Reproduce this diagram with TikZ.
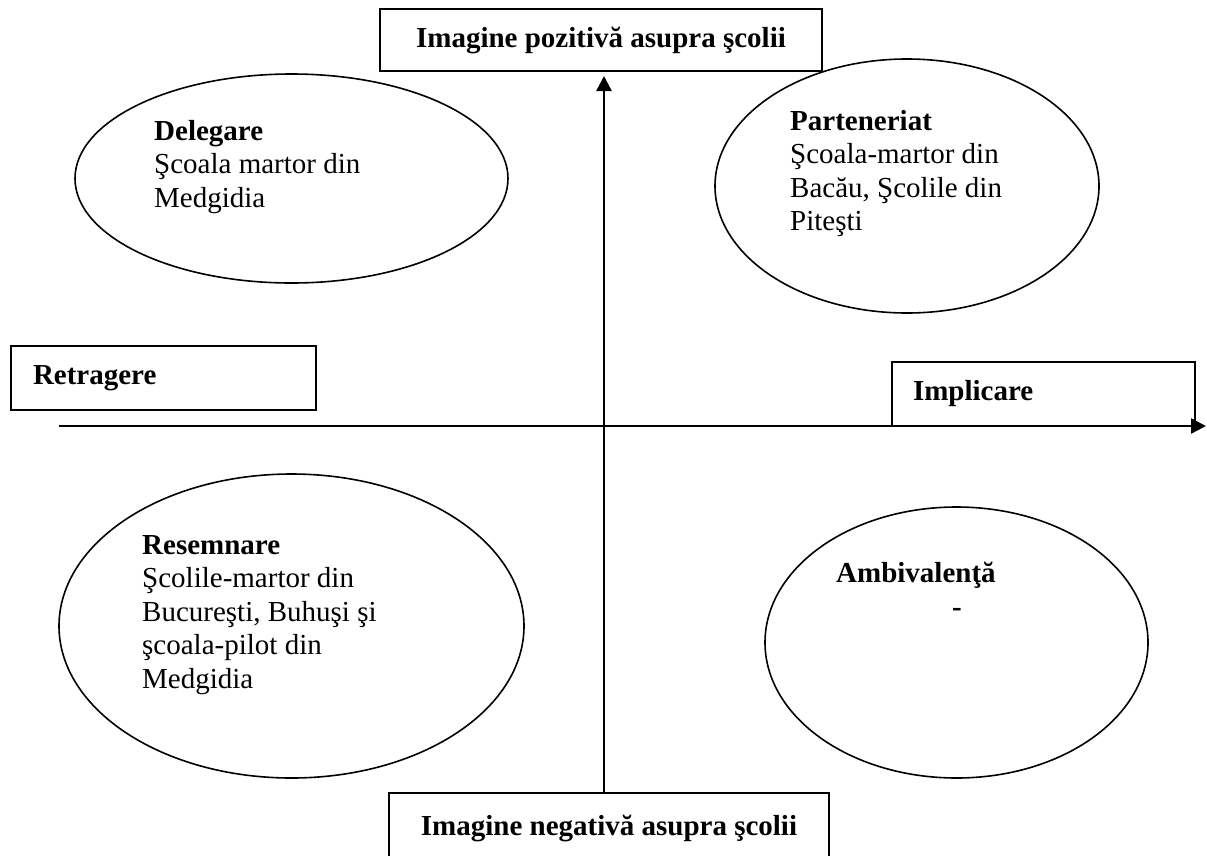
\documentclass[tikz,border=0pt]{standalone}
\usepackage{fontspec}
\setmainfont{Liberation Serif}
\usetikzlibrary{arrows.meta}

\begin{document}
\begin{tikzpicture}[x=1pt,y=-1pt,font=\fontsize{29}{33.5}\selectfont]
\tikzset{box it/.style={draw, line width=2pt, inner sep=0pt}}
\tikzset{oval it/.style={line width=1.6pt}}
\tikzset{text it/.style={anchor=north west, inner sep=0pt, align=left}}

\useasboundingbox (0,0) rectangle (1207,855);

\node [box it, minimum width=442pt, minimum height=62pt] (v1) at (601,40) {\textbf{Imagine pozitivă asupra şcolii}};
\node [box it, minimum width=440pt, minimum height=70pt] (v2) at (609,828) {\textbf{Imagine negativă asupra şcolii}};
\node [box it, text width=261pt, inner xsep=22pt, minimum height=64pt, align=left] (v3) at (163.5,378) {\textbf{Retragere}};
\node [box it, text width=261pt, inner xsep=21pt, minimum height=64pt, align=left] (v4) at (1043.5,394) {\textbf{Implicare}};

\draw [oval it] (291.5,178.5) node (v5) {} ellipse (216.5 and 104.5);
\draw [oval it] (907,186) node (v6) {} ellipse (192 and 127);
\draw [oval it] (291.5,626) node (v7) {} ellipse (232.5 and 152);
\draw [oval it] (956.5,642.5) node (v8) {} ellipse (191.5 and 135.5);

\node [text it] (v9) at (154,120) {\textbf{Delegare}\\Şcoala martor din\\Medgidia};
\node [text it] (v10) at (790,110) {\textbf{Parteneriat}\\Şcoala-martor din\\Bacău, Şcolile din\\Piteşti};
\node [text it] (v11) at (142,535) {\textbf{Resemnare}\\Şcolile-martor din\\Bucureşti, Buhuşi şi\\şcoala-pilot din\\Medgidia};
\node [text it] (v12) at (836,562) {\textbf{Ambivalenţă}\\\hspace*{116pt}\textbf{-}};

\tikzstyle{myaxisstyle} = [-{Triangle[length=15pt,width=15pt]}, line width=2.4pt]

\coordinate (v20) at (604,76);
\coordinate (v21) at (59,426);
\coordinate (v22) at (1206,426);
\draw [myaxisstyle] (v20 |- v2.north) -- (v20);
\draw [myaxisstyle] (v21) -- (v22);
\end{tikzpicture}
\end{document}
